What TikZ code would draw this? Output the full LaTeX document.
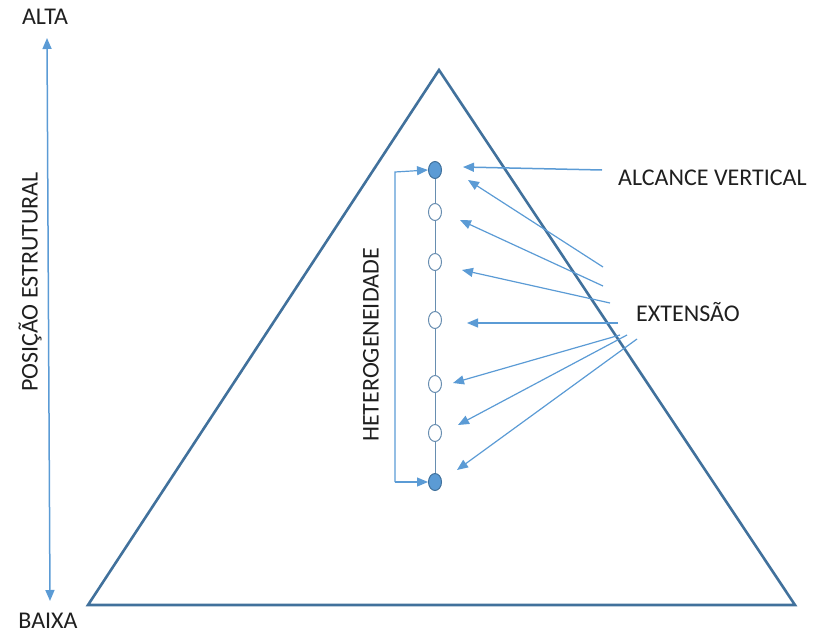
\documentclass[tikz,border=0pt]{standalone}
\usepackage{fontspec}
\setmainfont{Carlito}
\usetikzlibrary{arrows.meta,shapes.geometric}
\definecolor{edgeblue}{HTML}{41719C}
\definecolor{arrowblue}{HTML}{5B9BD5}
\begin{document}
\begin{tikzpicture}[x=1pt,y=-1pt,
  lbl/.style={font=\fontsize{24}{28}\selectfont, text=black!88, inner sep=0pt},
  conn/.style={draw=arrowblue, line width=1.5pt, -{Triangle[length=11pt,width=9pt]}},
  fullpt/.style={ellipse, draw=edgeblue, fill=arrowblue, line width=1pt, minimum width=13pt, minimum height=17pt, inner sep=0pt},
  openpt/.style={ellipse, draw=edgeblue!80, fill=white, line width=1pt, minimum width=13pt, minimum height=17pt, inner sep=0pt}]
\useasboundingbox (0,0) rectangle (814,634);

% pyramid
\draw[edgeblue, line width=2.6pt, line join=miter] (439,70) -- (795,605) -- (88,605) -- cycle;

% structural position axis
\node[lbl] (alta) at (45,17) {ALTA};
\node[lbl] (baixa) at (48,621) {BAIXA};
\coordinate (axtop) at (47,38);
\coordinate (axbot) at (50,601);
\draw[draw=arrowblue, line width=1.5pt, {Triangle[length=11pt,width=9pt]}-{Triangle[length=11pt,width=9pt]}] (axtop) -- (axbot);
\node[lbl, rotate=90] (posicao) at (30,282) {POSIÇÃO ESTRUTURAL};

% chain of positions
\node[fullpt] (p1) at (435,170) {};
\node[openpt] (p2) at (435,212) {};
\node[openpt] (p3) at (435,262) {};
\node[openpt] (p4) at (435,320) {};
\node[openpt] (p5) at (435,384) {};
\node[openpt] (p6) at (435,433) {};
\node[fullpt] (p7) at (435,482) {};
\foreach \a/\b in {p1/p2,p2/p3,p3/p4,p4/p5,p5/p6,p6/p7}
  \draw[edgeblue!80, line width=1pt] (\a) -- (\b);

% heterogeneity bracket
\coordinate (bt) at (395,172);
\coordinate (bb) at (395,482);
\draw[conn, line width=1.2pt] (bb) -- (bt) -- (p1.west);
\draw[conn, line width=1.2pt] (bb) -- (p7.west);
\node[lbl, rotate=90] (het) at (371,345) {HETEROGENEIDADE};

% vertical reach
\node[lbl, anchor=west] (alcance) at (618,178) {ALCANCE VERTICAL};
\coordinate (a0) at (602,170);
\coordinate (a1) at (463,167);
\draw[conn] (a0) -- (a1);

% extension
\node[lbl, anchor=west] (ext) at (636,312) {EXTENSÃO};
\coordinate (e1s) at (603,267); \coordinate (e1t) at (468,180);
\coordinate (e2s) at (603,286); \coordinate (e2t) at (460,220);
\coordinate (e3s) at (610,303); \coordinate (e3t) at (462,270);
\coordinate (e4s) at (618,323); \coordinate (e4t) at (467,323);
\coordinate (e5s) at (620,335); \coordinate (e5t) at (453,383);
\coordinate (e6s) at (627,335); \coordinate (e6t) at (458,425);
\coordinate (e7s) at (637,339); \coordinate (e7t) at (457,470);
\foreach \i in {1,...,7}
  \draw[conn, line width=1.2pt] (e\i s) -- (e\i t);
\end{tikzpicture}
\end{document}
